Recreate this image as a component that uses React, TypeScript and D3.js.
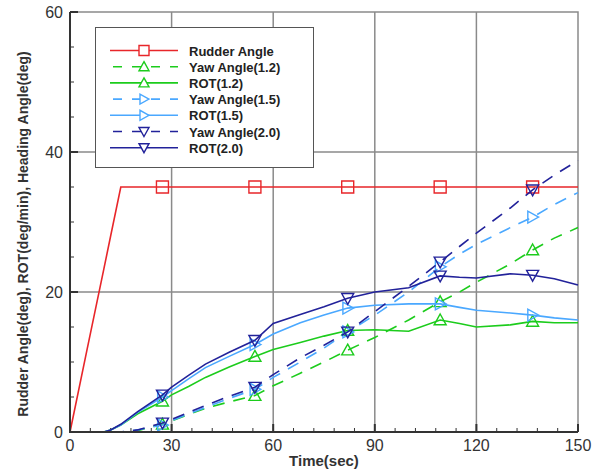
import { useEffect, useRef } from "react";
import * as d3 from "d3";

// sample times (sec); markers sit at indices in markerIdx
const time = [0, 5, 10, 12, 15, 20, 27.3, 30, 35, 40, 47, 54.6, 60, 68, 75, 82, 90, 100, 109.3, 115, 120, 130, 136.6, 143, 150];
const markerIdx = [6, 11, 15, 18, 22];

const rudder = [0, 11.7, 23.3, 28, 35, 35, 35, 35, 35, 35, 35, 35, 35, 35, 35, 35, 35, 35, 35, 35, 35, 35, 35, 35, 35];
const yaw12 = [0, 0, 0, 0, 0, 0.2, 1.1, 1.6, 2.5, 3.4, 4.3, 5.2, 6.6, 8.4, 10, 11.7, 13.5, 16, 18.6, 20, 21.4, 24, 26, 27.7, 29.2];
const rot12 = [0, 0, 0, 0.3, 1, 2.6, 4.4, 5.3, 6.5, 7.8, 9.3, 10.8, 11.8, 12.8, 13.7, 14.5, 14.6, 14.4, 16, 15.5, 15, 15.3, 15.8, 15.6, 15.6];
const yaw15 = [0, 0, 0, 0, 0, 0.3, 1, 1.6, 2.6, 3.5, 4.8, 6.1, 7.8, 10, 12, 14.3, 16.7, 20, 23.6, 25.4, 26.8, 29.2, 30.7, 32.5, 34.2];
const rot15 = [0, 0, 0, 0.3, 1, 2.8, 5, 5.9, 7.6, 9.2, 10.8, 12.5, 14, 15.6, 16.7, 17.7, 18.1, 18.3, 18.3, 17.8, 17.4, 17, 16.7, 16.3, 16];
const yaw20 = [0, 0, 0, 0, 0, 0.3, 1.3, 1.8, 2.8, 3.8, 5.1, 6.4, 8.2, 10.6, 12.4, 14.3, 17.2, 20.8, 24.3, 26.5, 28.4, 32, 34.6, 36.7, 38.8];
const rot20 = [0, 0, 0, 0.3, 1.1, 2.9, 5.3, 6.4, 8.1, 9.7, 11.4, 13.1, 15.5, 16.8, 17.9, 19.1, 20, 20.6, 22.3, 22.1, 22, 22.6, 22.4, 21.9, 21];

const legendLabels = ["Rudder Angle", "Yaw Angle(1.2)", "ROT(1.2)", "Yaw Angle(1.5)", "ROT(1.5)", "Yaw Angle(2.0)", "ROT(2.0)"];
const xTicks = [0, 30, 60, 90, 120, 150];
const yTicks = [0, 20, 40, 60];

const RED = "#e8262a";
const GREEN = "#1ccc1c";
const LIGHT = "#4aa8ff";
const NAVY = "#22229a";

type Marker = "square" | "up" | "right" | "down";
const seriesList: { label: string; values: number[]; color: string; dash: boolean; marker: Marker }[] = [
  { label: legendLabels[0], values: rudder, color: RED, dash: false, marker: "square" },
  { label: legendLabels[1], values: yaw12, color: GREEN, dash: true, marker: "up" },
  { label: legendLabels[2], values: rot12, color: GREEN, dash: false, marker: "up" },
  { label: legendLabels[3], values: yaw15, color: LIGHT, dash: true, marker: "right" },
  { label: legendLabels[4], values: rot15, color: LIGHT, dash: false, marker: "right" },
  { label: legendLabels[5], values: yaw20, color: NAVY, dash: true, marker: "down" },
  { label: legendLabels[6], values: rot20, color: NAVY, dash: false, marker: "down" },
];

function markerPath(kind: Marker, s = 6) {
  switch (kind) {
    case "square":
      return `M${-s},${-s}H${s}V${s}H${-s}Z`;
    case "up":
      return `M0,${-s}L${s},${s * 0.8}H${-s}Z`;
    case "down":
      return `M0,${s}L${s},${-s * 0.8}H${-s}Z`;
    default:
      return `M${s},0L${-s * 0.8},${-s}V${s}Z`;
  }
}

export default function App() {
  const ref = useRef<SVGSVGElement>(null);

  useEffect(() => {
    const svg = d3.select(ref.current);
    svg.selectAll("*").remove();

    const x = d3.scaleLinear().domain([0, 150]).range([70, 578]);
    const y = d3.scaleLinear().domain([0, 60]).range([432, 12]);
    const font = "'Liberation Sans', Arial, sans-serif";

    svg.append("rect").attr("width", 606).attr("height", 470).attr("fill", "#fff");

    // grid
    const g = svg.append("g");
    g.selectAll(".gx")
      .data(xTicks.slice(1, -1))
      .join("line")
      .attr("x1", (d) => x(d))
      .attr("x2", (d) => x(d))
      .attr("y1", y(0))
      .attr("y2", y(60))
      .attr("stroke", "#8a8a8a")
      .attr("stroke-width", 1.5);
    g.selectAll(".gy")
      .data(yTicks.slice(1, -1))
      .join("line")
      .attr("y1", (d) => y(d))
      .attr("y2", (d) => y(d))
      .attr("x1", x(0))
      .attr("x2", x(150))
      .attr("stroke", "#8a8a8a")
      .attr("stroke-width", 1.5);

    // top and right frame
    svg.append("path")
      .attr("d", `M${x(0)},${y(60)}H${x(150)}V${y(0)}`)
      .attr("fill", "none")
      .attr("stroke", "#8a8a8a")
      .attr("stroke-width", 1.5);

    // minor/major ticks
    const minorX = d3.range(0, 151, 6);
    svg.append("g")
      .selectAll("line")
      .data(minorX)
      .join("line")
      .attr("x1", (d) => x(d))
      .attr("x2", (d) => x(d))
      .attr("y1", y(0))
      .attr("y2", (d) => y(0) - (d % 30 === 0 ? 8 : 4))
      .attr("stroke", "#333")
      .attr("stroke-width", (d) => (d % 30 === 0 ? 2 : 1));
    const minorY = d3.range(0, 61, 5);
    svg.append("g")
      .selectAll("line")
      .data(minorY)
      .join("line")
      .attr("y1", (d) => y(d))
      .attr("y2", (d) => y(d))
      .attr("x1", x(0))
      .attr("x2", (d) => x(0) + (d % 20 === 0 ? 8 : 4))
      .attr("stroke", "#333")
      .attr("stroke-width", (d) => (d % 20 === 0 ? 2 : 1));

    // series
    const line = d3
      .line<number>()
      .x((_, i) => x(time[i]))
      .y((d) => y(d));
    seriesList.forEach((s) => {
      svg.append("path")
        .datum(s.values)
        .attr("d", line)
        .attr("fill", "none")
        .attr("stroke", s.color)
        .attr("stroke-width", 1.6)
        .attr("stroke-dasharray", s.dash ? "12,9" : null);
      svg.append("g")
        .selectAll("path")
        .data(markerIdx)
        .join("path")
        .attr("transform", (i) => `translate(${x(time[i])},${y(s.values[i])})`)
        .attr("d", markerPath(s.marker))
        .attr("fill", "none")
        .attr("stroke", s.color)
        .attr("stroke-width", 1.4);
    });

    // axes (left + bottom thick)
    svg.append("path")
      .attr("d", `M${x(0)},${y(60)}V${y(0)}H${x(150)}`)
      .attr("fill", "none")
      .attr("stroke", "#333")
      .attr("stroke-width", 2);

    svg.append("g")
      .selectAll("text")
      .data(xTicks)
      .join("text")
      .attr("x", (d) => x(d))
      .attr("y", 451)
      .attr("text-anchor", "middle")
      .attr("font-family", font)
      .attr("font-size", 16)
      .attr("fill", "#333")
      .text((d) => d);
    svg.append("g")
      .selectAll("text")
      .data(yTicks)
      .join("text")
      .attr("x", 63)
      .attr("y", (d) => y(d) + 6)
      .attr("text-anchor", "end")
      .attr("font-family", font)
      .attr("font-size", 16)
      .attr("fill", "#333")
      .text((d) => d);

    svg.append("text")
      .attr("x", 324)
      .attr("y", 466)
      .attr("text-anchor", "middle")
      .attr("font-family", font)
      .attr("font-weight", "bold")
      .attr("font-size", 15)
      .attr("fill", "#333")
      .text("Time(sec)");
    svg.append("text")
      .attr("transform", `translate(28,234) rotate(-90)`)
      .attr("text-anchor", "middle")
      .attr("font-family", font)
      .attr("font-weight", "bold")
      .attr("font-size", 14)
      .attr("fill", "#333")
      .text("Rudder Angle(deg), ROT(deg/min), Heading Angle(deg)");

    // legend
    const lg = svg.append("g");
    lg.append("rect")
      .attr("x", 95.5)
      .attr("y", 27.5)
      .attr("width", 218)
      .attr("height", 140)
      .attr("fill", "#fff")
      .attr("stroke", "#555")
      .attr("stroke-width", 1);
    seriesList.forEach((s, i) => {
      const ly = 50.5 + i * 16.2;
      lg.append("line")
        .attr("x1", 110)
        .attr("x2", 178)
        .attr("y1", ly)
        .attr("y2", ly)
        .attr("stroke", s.color)
        .attr("stroke-width", 1.6)
        .attr("stroke-dasharray", s.dash ? "9,10" : null)
        .attr("stroke-dashoffset", s.dash ? -3 : null);
      lg.append("path")
        .attr("transform", `translate(144,${ly})`)
        .attr("d", markerPath(s.marker, 5))
        .attr("fill", "#fff")
        .attr("stroke", s.color)
        .attr("stroke-width", 1.4);
      lg.append("text")
        .attr("x", 189)
        .attr("y", ly + 5)
        .attr("font-family", font)
        .attr("font-weight", "bold")
        .attr("font-size", 13)
        .attr("fill", "#222")
        .text(s.label);
    });
  }, []);

  return <svg ref={ref} width={606} height={470} style={{ display: "block", position: "absolute", left: 0, top: 0 }} />;
}
